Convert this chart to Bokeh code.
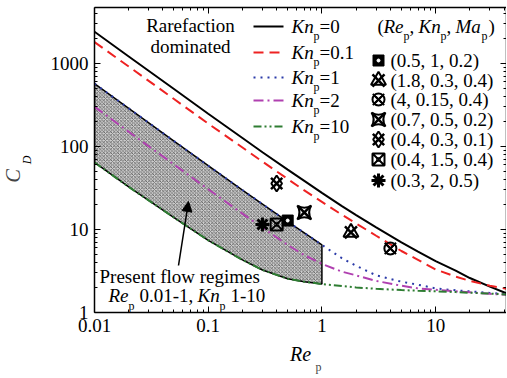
import math
from bokeh.plotting import figure
from bokeh.models import (Range1d, LogAxis, FixedTicker, Label, Arrow, NormalHead, Title)
from bokeh.embed import file_html
from bokeh.resources import INLINE

# ---------------- data ----------------
re_grid = [0.01, 0.02, 0.05, 0.1, 0.2, 0.3, 0.5, 0.7, 1, 1.5, 2, 3, 5, 7, 10, 15, 20, 30, 42]
cd_kn0 = [2400, 1210, 490, 247, 126, 85, 52.5, 38.5, 27.6, 19.1, 14.9, 10.6, 7.0, 5.4, 4.15, 3.2, 2.6, 2.05, 1.7]
cd_kn01 = [1800, 915, 372, 188, 97, 65.5, 40.5, 29.5, 21.5, 15.0, 11.8, 8.4, 5.5, 4.3, 3.3, 2.7, 2.4, 2.1, 1.93]
cd_kn1 = [570, 287, 116, 58.5, 29.8, 20.2, 12.4, 9.1, 6.5, 4.5, 3.65, 2.8, 2.35, 2.16, 1.95, 1.85, 1.8, 1.72, 1.66]
cd_kn2 = [300, 150, 60.5, 30.5, 15.5, 10.5, 6.5, 4.9, 3.85, 3.1, 2.8, 2.4, 2.1, 1.95, 1.88, 1.8, 1.75, 1.68, 1.63]
cd_kn10 = [64, 32.5, 13.9, 7.4, 4.3, 3.25, 2.55, 2.35, 2.2, 2.08, 2.0, 1.93, 1.86, 1.83, 1.8, 1.76, 1.73, 1.69, 1.65]

# simulation cases (Re_p, Kn_p, Ma_p) and their C_D
case_re = [0.5, 1.8, 4, 0.7, 0.4, 0.4, 0.3]
case_cd = [12.8, 9.2, 5.9, 16.0, 35.8, 11.5, 11.5]
case_labels = ["(0.5, 1, 0.2)", "(1.8, 0.3, 0.4)", "(4, 0.15, 0.4)", "(0.7, 0.5, 0.2)",
               "(0.4, 0.3, 0.1)", "(0.4, 1.5, 0.4)", "(0.3, 2, 0.5)"]
kn_labels = ["=0", "=0.1", "=1", "=2", "=10"]

x_ticks = [0.01, 0.1, 1, 10]
y_ticks = [1, 10, 100, 1000]
XMIN, XMAX, YMIN, YMAX = 0.01, 42, 1, 4700

# ---------------- layout ----------------
FL, FT, FW, FH = 94, 7, 412, 305
FONT = "Liberation Serif"
FS = "19px"

p = figure(x_axis_type="log", y_axis_type="log",
           x_range=Range1d(XMIN, XMAX), y_range=Range1d(YMIN, YMAX),
           frame_width=FW, frame_height=FH,
           min_border_left=FL, min_border_top=FT, min_border_right=0, min_border_bottom=66,
           output_backend="svg", toolbar_location=None)
p.grid.visible = False
p.outline_line_color = None
p.background_fill_color = "white"
p.border_fill_color = "white"


def minor(ticks, hi):
    out = []
    for d in ticks:
        for k in range(2, 10):
            if d * k <= hi:
                out.append(d * k)
    return out


xt = FixedTicker(ticks=x_ticks, minor_ticks=minor([0.01, 0.1, 1, 10], XMAX))
yt = FixedTicker(ticks=y_ticks, minor_ticks=minor([1, 10, 100, 1000], YMAX))

for ax, tk in ((p.xaxis[0], xt), (p.yaxis[0], yt)):
    ax.ticker = tk
    ax.major_label_overrides = {t: ("%g" % t) for t in tk.ticks}
    ax.major_label_text_font = FONT
    ax.major_label_text_font_size = FS
    ax.major_label_text_color = "black"
    ax.axis_line_width = 1.5
    ax.axis_line_color = "black"
    ax.major_tick_in = 6
    ax.major_tick_out = 0
    ax.minor_tick_in = 3
    ax.minor_tick_out = 0
    ax.major_tick_line_color = "black"
    ax.minor_tick_line_color = "black"
    ax.major_label_standoff = 6
    ax.axis_label_text_font = FONT
    ax.axis_label_text_font_style = "italic"
    ax.axis_label_text_color = "black"

# x title "Re" (axis label) + subscript "p" (title)
p.xaxis[0].axis_label = "Re"
p.xaxis[0].axis_label_text_font_size = "20px"
p.xaxis[0].axis_label_standoff = 8
p.add_layout(Title(text="p", align="left", offset=221, text_font=FONT, text_font_size="12px",
                   text_font_style="normal", standoff=-16, vertical_align="top"), "below")

# y title: subscript "D" (axis label) + "C" (title)
p.yaxis[0].axis_label = "D"
p.yaxis[0].axis_label_text_font_size = "12px"
p.yaxis[0].axis_label_standoff = 14
p.add_layout(Title(text="C", align="left", offset=130, text_font=FONT, text_font_size="20px",
                   text_font_style="italic", standoff=-15, vertical_align="bottom"), "left")

for loc, tk in (("above", xt), ("right", yt)):
    ax = LogAxis(ticker=tk)
    ax.major_label_overrides = {t: "" for t in tk.ticks}
    ax.major_label_text_font_size = "1px"
    ax.major_label_standoff = 0
    ax.axis_line_width = 1.5
    ax.axis_line_color = "black"
    ax.major_tick_in = 6
    ax.major_tick_out = 0
    ax.minor_tick_in = 3
    ax.minor_tick_out = 0
    p.add_layout(ax, loc)

# ---------------- shaded present-flow regime ----------------
n1 = re_grid.index(1) + 1
patch_x = re_grid[:n1] + re_grid[:n1][::-1]
patch_y = cd_kn1[:n1] + cd_kn10[:n1][::-1]
p.patch(patch_x, patch_y, fill_color="#cfcfcf", line_color="black", line_width=1.5,
        hatch_pattern="diagonal_cross", hatch_scale=3.5, hatch_weight=0.7, hatch_color="#444444")

# ---------------- curves ----------------
styles = [
    (cd_kn0, "black", "solid"),
    (cd_kn01, "#ee2222", "10 6"),
    (cd_kn1, "#2a3aa8", "2 5"),
    (cd_kn2, "#b040b0", "10 4 2 4"),
    (cd_kn10, "#2e7d32", "8 3 2 3 2 3"),
]
for ys, col, dash in styles:
    p.line(re_grid, ys, line_color=col, line_width=2, line_dash=dash)

# ---------------- simulation markers ----------------
marker_sets = [
    [("square", 11, "black", 1), ("dot", 8, "white", 1)],
    [("triangle", 15, None, 2), ("x", 17, None, 2.5)],
    [("circle_x", 12, None, 2), ("x", 16, None, 2)],
    [("square_pin", 14, None, 2), ("x", 17, None, 2.5)],
    [("diamond", 16, None, 2), ("x", 16, None, 2.5)],
    [("square_x", 12, None, 2), ("circle", 4, None, 1)],
    [("asterisk", 14, None, 3)],
]


def draw_marker(xs, ys, spec):
    for mk, sz, fill, lw in spec:
        if mk == "dot":
            p.scatter(xs, ys, marker="circle", size=3, fill_color=fill, line_color=fill)
        else:
            p.scatter(xs, ys, marker=mk, size=sz, fill_color=fill if fill else None,
                      line_color="black", line_width=lw)


for i, spec in enumerate(marker_sets):
    draw_marker([case_re[i]], [case_cd[i]], spec)


# ---------------- helpers for screen placement ----------------
def sx(cx):
    return cx - FL


def sy(cy):
    return FT + FH - cy


def s2d(cx, cy):
    lx = math.log10(XMIN) + (cx - FL) / FW * (math.log10(XMAX) - math.log10(XMIN))
    ly = math.log10(YMIN) + (FT + FH - cy) / FH * (math.log10(YMAX) - math.log10(YMIN))
    return 10 ** lx, 10 ** ly


def label(cx, cy, text, size=FS, style="normal", align="left", angle=0):
    p.add_layout(Label(x=sx(cx), y=sy(cy), x_units="screen", y_units="screen", text=text,
                       text_font=FONT, text_font_size=size, text_font_style=style,
                       text_align=align, text_baseline="middle", text_color="black",
                       angle=angle))


# line legend
rows = [26, 52, 77, 100, 126]
for (ys, col, dash), cy, lab in zip(styles, rows, kn_labels):
    lx0, ly0 = s2d(253, cy)
    lx1, _ = s2d(283, cy)
    p.line([lx0, lx1], [ly0, ly0], line_color=col, line_width=2, line_dash=dash)
    label(291, cy, "Kn", style="italic")
    label(313, cy + 9, "p", size="12px")
    label(319, cy, lab)

# marker legend header
label(377, 26, "(")
label(383, 26, "Re", style="italic")
label(403, 35, "p", size="12px")
label(409, 26, ",")
label(418, 26, "Kn", style="italic")
label(440, 35, "p", size="12px")
label(446, 26, ",")
label(455, 26, "Ma", style="italic")
label(481, 35, "p", size="12px")
label(488, 26, ")")

mrows = [60, 80, 99, 119, 139, 159, 180]
for spec, cy, lab in zip(marker_sets, mrows, case_labels):
    mx, my = s2d(378, cy)
    draw_marker([mx], [my], spec)
    label(390, cy, lab)

# annotations
label(190, 25, "Rarefaction", align="center")
label(190, 46, "dominated", align="center")
label(99, 276, "Present flow regimes")
label(108, 295, "Re", style="italic")
label(128, 305, "p", size="12px")
label(139, 295, "0.01-1,")
label(197, 295, "Kn", style="italic")
label(219, 305, "p", size="12px")
label(230, 295, "1-10")

ax0, ay0 = s2d(178, 265)
ax1, ay1 = s2d(188, 201)
p.add_layout(Arrow(x_start=ax0, y_start=ay0, x_end=ax1, y_end=ay1,
                   end=NormalHead(size=10, fill_color="black", line_color="black"),
                   line_color="black", line_width=1.5))

open("out.html", "w").write(file_html(p, INLINE))
